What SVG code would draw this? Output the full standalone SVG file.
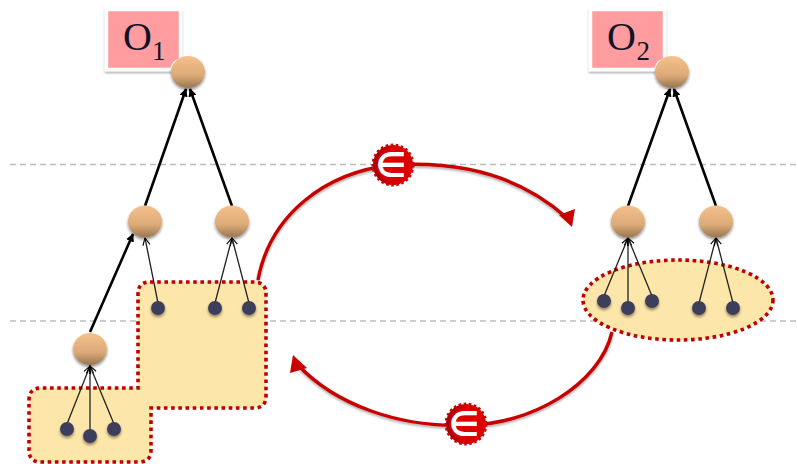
<svg xmlns="http://www.w3.org/2000/svg" width="798" height="464" viewBox="0 0 798 464">
<defs>
<linearGradient id="tan" x1="0" y1="0" x2="0" y2="1"><stop offset="0" stop-color="#f5c28c"/><stop offset="0.6" stop-color="#dcaa78"/><stop offset="1" stop-color="#9a7650"/></linearGradient>
<radialGradient id="red" cx="0.62" cy="0.5" r="0.62"><stop offset="0.72" stop-color="#dc0000"/><stop offset="1" stop-color="#960000"/></radialGradient>
<filter id="sh" x="-30%" y="-30%" width="160%" height="170%"><feGaussianBlur in="SourceAlpha" stdDeviation="1.5"/><feOffset dy="2"/><feComponentTransfer><feFuncA type="linear" slope="0.45"/></feComponentTransfer><feMerge><feMergeNode/><feMergeNode in="SourceGraphic"/></feMerge></filter>
<filter id="sl" x="-10%" y="-10%" width="120%" height="120%"><feGaussianBlur in="SourceAlpha" stdDeviation="1"/><feOffset dy="2"/><feComponentTransfer><feFuncA type="linear" slope="0.3"/></feComponentTransfer><feMerge><feMergeNode/><feMergeNode in="SourceGraphic"/></feMerge></filter>
<marker id="thick" viewBox="0 0 10 10" refX="9" refY="5" markerWidth="3.200" markerHeight="3.200" orient="auto"><path d="M0,0L10,5L0,10Z" fill="#000"/></marker>
<marker id="open" viewBox="0 0 10 10" refX="9" refY="5" markerWidth="9" markerHeight="9" orient="auto" markerUnits="userSpaceOnUse"><path d="M1,1L9,5L1,9" fill="none" stroke="#000" stroke-width="1.200"/></marker>
</defs>
<style>
.guide{stroke:#bdbdbd;stroke-width:1.3;stroke-dasharray:6 4;fill:none}
.region{fill:#fde6a9;stroke:#c00000;stroke-width:3.6;stroke-dasharray:3.6 3.6}
.thick{stroke:#000;stroke-width:2.6;fill:none;marker-end:url(#thick)}
.thin{stroke:#222;stroke-width:1.3;fill:none;marker-end:url(#open)}
.cycle{stroke:#c80000;stroke-width:3.4;fill:none;filter:url(#sl)}
.head{fill:#c80000}
.tan{fill:url(#tan);filter:url(#sh)}
.leaf{fill:#3e3e5c;filter:url(#sh)}
.tag{fill:#ff9c9f;stroke:#fff;stroke-width:3.500;filter:url(#sl)}
.curl{fill:#fff}
.lab{font-family:"Liberation Serif",serif;fill:#111428}
.badge{fill:url(#red)}
.teeth{fill:none;stroke:#d00000;stroke-width:2;stroke-dasharray:2.600 2.600}
.el{font-family:"DejaVu Sans",sans-serif;font-weight:bold;font-size:34px;fill:#fff;text-anchor:middle}
</style>
<g id="guides"><path class="guide" d="M10,164.500H798M10,321H798"/></g>
<g id="selection-left"><path class="region" d="M150,282H254Q266,282 266,294V396Q266,408 254,408H151V450Q151,462 139,462H41Q29,462 29,450V400Q29,388 41,388H138V294Q138,282 150,282Z"/></g>
<g id="selection-right"><ellipse class="region" cx="678" cy="300" rx="95" ry="40"/></g>
<g id="connectors">
<path class="thick" d="M145,206L186,89"/>
<path class="thick" d="M232,206L190,89"/>
<path class="thick" d="M90,332L133,234"/>
<path class="thick" d="M628,206L670,89"/>
<path class="thick" d="M716,206L674,89"/>
<path class="thin" d="M158,303L145,238"/>
<path class="thin" d="M215,303L232,238"/>
<path class="thin" d="M249,303L232,238"/>
<path class="thin" d="M67,424L90,366"/>
<path class="thin" d="M90,431V366"/>
<path class="thin" d="M114,424L90,366"/>
<path class="thin" d="M604,296L628,238"/>
<path class="thin" d="M628,303V238"/>
<path class="thin" d="M652,296L628,238"/>
<path class="thin" d="M699,303L716,238"/>
<path class="thin" d="M733,303L716,238"/>
<path class="cycle" d="M258,280C270,215 325,172 393,165C470,160 525,180 567,218"/>
<path class="head" d="M572,227L575,209L559,215Z"/>
<path class="cycle" d="M612,332C600,385 530,425 467,425C400,428 335,405 297,364"/>
<path class="head" d="M293,355L290,373L307,368Z"/>
</g>
<g id="o1"><rect class="tag" x="106.500" y="9.500" width="74" height="60"/><path class="curl" d="M170,68Q173,60 178,59V69H170Z"/><text class="lab" x="123" y="50" font-size="40">O</text><text class="lab" x="152" y="60" font-size="27">1</text></g>
<g id="o2"><rect class="tag" x="590.500" y="9.500" width="74" height="60"/><path class="curl" d="M654,68Q657,60 662,59V69H654Z"/><text class="lab" x="607" y="50" font-size="40">O</text><text class="lab" x="636.500" y="60" font-size="27">2</text></g>
<g id="n1"><ellipse class="tan" cx="188" cy="72" rx="17" ry="16"/></g>
<g id="n2"><ellipse class="tan" cx="145" cy="221.500" rx="17" ry="16"/></g>
<g id="n3"><ellipse class="tan" cx="232" cy="221.500" rx="17" ry="16"/></g>
<g id="n4"><ellipse class="tan" cx="90" cy="349" rx="17" ry="16"/></g>
<g id="n5"><ellipse class="tan" cx="672" cy="72" rx="17" ry="16"/></g>
<g id="n6"><ellipse class="tan" cx="628" cy="221.500" rx="17" ry="16"/></g>
<g id="n7"><ellipse class="tan" cx="716" cy="221.500" rx="17" ry="16"/></g>
<g id="l1"><circle class="leaf" cx="67" cy="429" r="7"/></g>
<g id="l2"><circle class="leaf" cx="90" cy="436" r="7"/></g>
<g id="l3"><circle class="leaf" cx="114" cy="429" r="7"/></g>
<g id="l4"><circle class="leaf" cx="158" cy="308" r="7"/></g>
<g id="l5"><circle class="leaf" cx="215" cy="308" r="7"/></g>
<g id="l6"><circle class="leaf" cx="249" cy="308" r="7"/></g>
<g id="l7"><circle class="leaf" cx="604" cy="301" r="7"/></g>
<g id="l8"><circle class="leaf" cx="628" cy="308" r="7"/></g>
<g id="l9"><circle class="leaf" cx="652" cy="301" r="7"/></g>
<g id="l10"><circle class="leaf" cx="699" cy="308" r="7"/></g>
<g id="l11"><circle class="leaf" cx="733" cy="308" r="7"/></g>
<g id="badge-top"><circle class="badge" cx="393" cy="165" r="20"/><circle class="teeth" cx="393" cy="165" r="20.500"/><text class="el" x="391" y="177">∈</text></g>
<g id="badge-bottom"><circle class="badge" cx="466" cy="424" r="20"/><circle class="teeth" cx="466" cy="424" r="20.500"/><text class="el" x="464" y="436">∈</text></g>
</svg>
